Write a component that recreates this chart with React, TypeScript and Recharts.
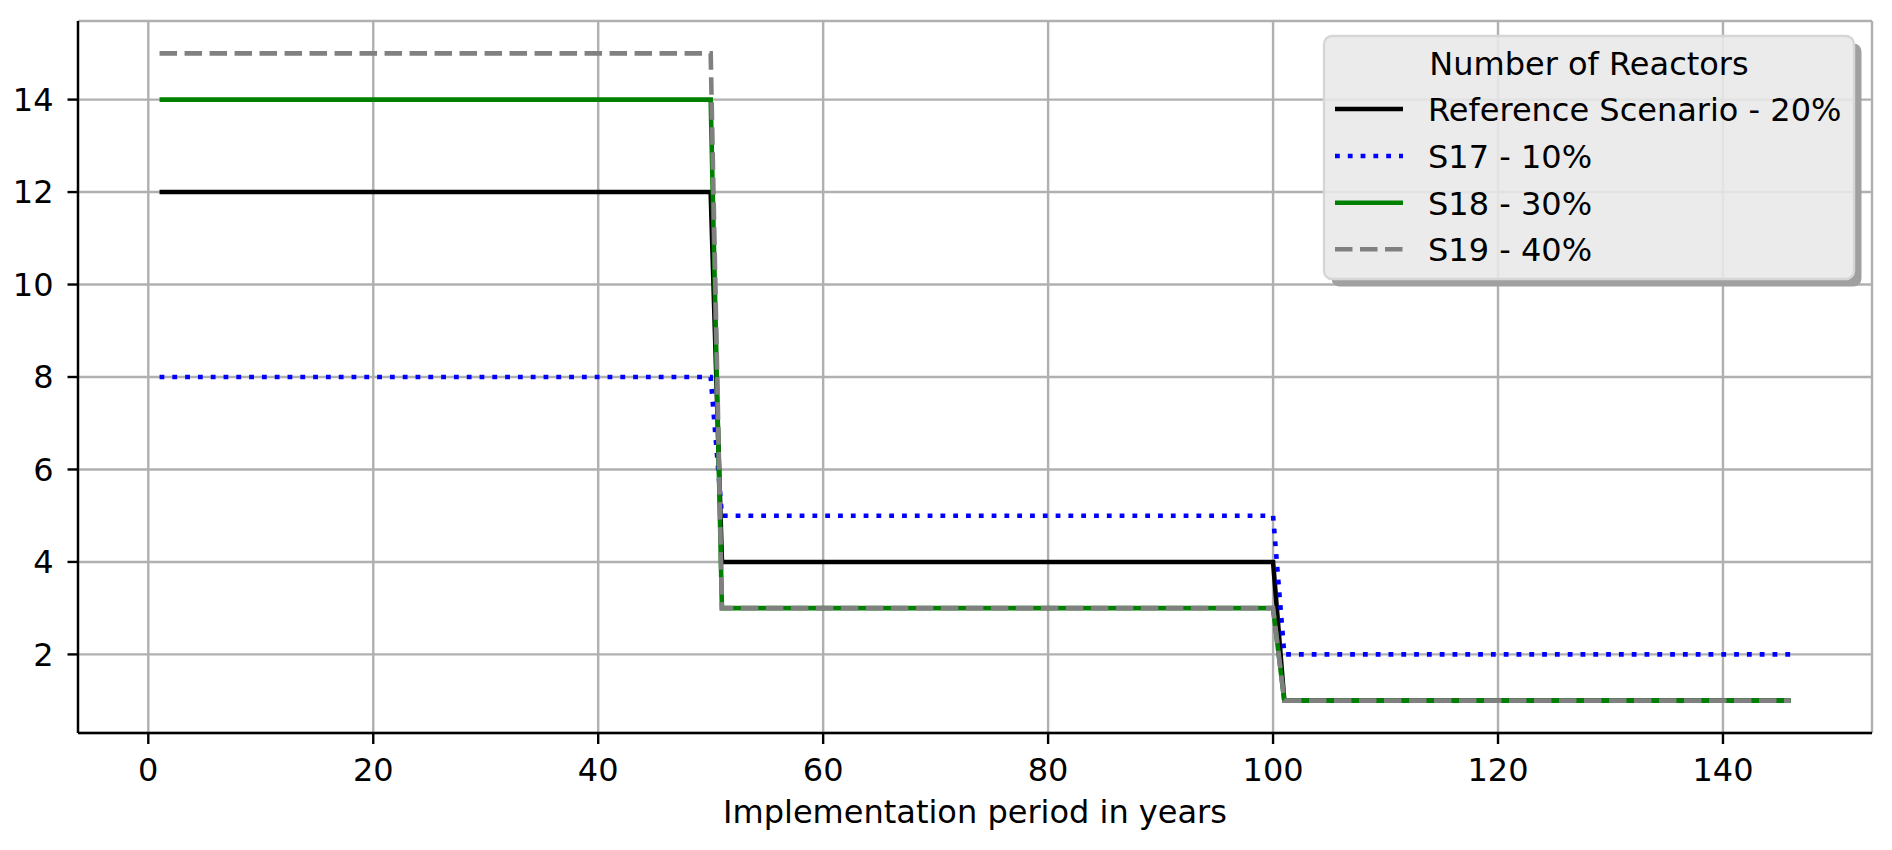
import React from 'react';

import { CartesianGrid, Legend, Line, LineChart, XAxis, YAxis } from 'recharts';

// breakpoints of the step series (years)
const years = [1, 50, 51, 100, 101, 146];
const referenceScenario = [12, 12, 4, 4, 1, 1];
const s17 = [8, 8, 5, 5, 2, 2];
const s18 = [14, 14, 3, 3, 1, 1];
const s19 = [15, 15, 3, 3, 1, 1];

const xTicks = [0, 20, 40, 60, 80, 100, 120, 140];
const yTicks = [2, 4, 6, 8, 10, 12, 14];

const seriesNames = ['Reference Scenario - 20%', 'S17 - 10%', 'S18 - 30%', 'S19 - 40%'];
const legendTitle = 'Number of Reactors';
const xLabel = 'Implementation period in years';

const FONT = '"DejaVu Sans", sans-serif';
const FS = 32;
const LW = 4.6;

const series = [
  { key: 'reference', name: seriesNames[0], color: '#000000', dash: undefined },
  { key: 's17', name: seriesNames[1], color: '#0000ff', dash: '4.8 8' },
  { key: 's18', name: seriesNames[2], color: '#008000', dash: undefined },
  { key: 's19', name: seriesNames[3], color: '#808080', dash: '17.5 7.5' },
];

const data = years.map((year, i) => ({
  year,
  reference: referenceScenario[i],
  s17: s17[i],
  s18: s18[i],
  s19: s19[i],
}));

function ReactorLegend() {
  const w = 530;
  const h = 243;
  const rowY = [73, 120, 166.7, 213.3];
  return (
    <svg width={550} height={265} style={{ overflow: 'visible', display: 'block' }}>
      <defs>
        <mask id="shadowMask">
          <rect x={0} y={0} width={550} height={265} fill="#fff" />
          <rect x={4} y={4} width={w} height={h} rx={8} fill="#000" />
        </mask>
      </defs>
      <rect x={11.5} y={11.5} width={w} height={h} rx={8} fill="#a0a0a0" mask="url(#shadowMask)" />
      <rect x={4} y={4} width={w} height={h} rx={8} fill="#e8e8e8" fillOpacity={0.88} stroke="#d6d6d6" strokeWidth={2.4} />
      <text x={4 + w / 2} y={4 + 39} textAnchor="middle" fontSize={FS} fontFamily={FONT} fill="#000">
        {legendTitle}
      </text>
      {series.map((s, i) => (
        <g key={s.key}>
          <line
            x1={4 + 11}
            x2={4 + 79}
            y1={4 + rowY[i]}
            y2={4 + rowY[i]}
            stroke={s.color}
            strokeWidth={LW}
            strokeDasharray={s.dash}
          />
          <text x={4 + 104} y={4 + rowY[i] + 12} fontSize={FS} fontFamily={FONT} fill="#000">
            {s.name}
          </text>
        </g>
      ))}
    </svg>
  );
}

function ReactorChart() {
  const tickStyle = { fill: '#000', fontSize: FS, fontFamily: FONT };
  const spine = { stroke: '#000', strokeWidth: 2.4 };
  return (
    <LineChart width={1892} height={850} data={data} margin={{ top: 21, right: 20, left: 0, bottom: 0 }}>
      <CartesianGrid stroke="#b0b0b0" strokeWidth={2.4} />
      <XAxis
        dataKey="year"
        type="number"
        domain={[-6.25, 153.25]}
        ticks={xTicks}
        tick={tickStyle}
        tickSize={11}
        tickMargin={14}
        axisLine={spine}
        tickLine={spine}
        height={117}
        label={{ value: xLabel, position: 'insideBottom', offset: 27, fill: '#000', fontSize: FS, fontFamily: FONT }}
      />
      <XAxis
        xAxisId="top"
        orientation="top"
        type="number"
        domain={[-6.25, 153.25]}
        height={0}
        tick={false}
        tickLine={false}
        axisLine={spine}
      />
      <YAxis
        type="number"
        domain={[0.3, 15.7]}
        ticks={yTicks}
        tick={tickStyle}
        tickSize={10.5}
        tickMargin={14}
        axisLine={spine}
        tickLine={spine}
        width={78}
      />
      <YAxis
        yAxisId="right"
        orientation="right"
        type="number"
        domain={[0.3, 15.7]}
        width={0}
        tick={false}
        tickLine={false}
        axisLine={spine}
      />
      {series.map((s) => (
        <Line
          key={s.key}
          type="linear"
          dataKey={s.key}
          name={s.name}
          stroke={s.color}
          strokeWidth={LW}
          strokeDasharray={s.dash}
          dot={false}
          activeDot={false}
          isAnimationActive={false}
        />
      ))}
      <Legend
        layout="vertical"
        align="center"
        verticalAlign="middle"
        content={() => <ReactorLegend />}
        wrapperStyle={{ left: 1320, top: 32, width: 550, height: 265 }}
      />
    </LineChart>
  );
}

export default function App() {
  return (
    <div style={{ position: 'absolute', left: 0, top: 0, fontFamily: FONT }}>
      <ReactorChart />
    </div>
  );
}
